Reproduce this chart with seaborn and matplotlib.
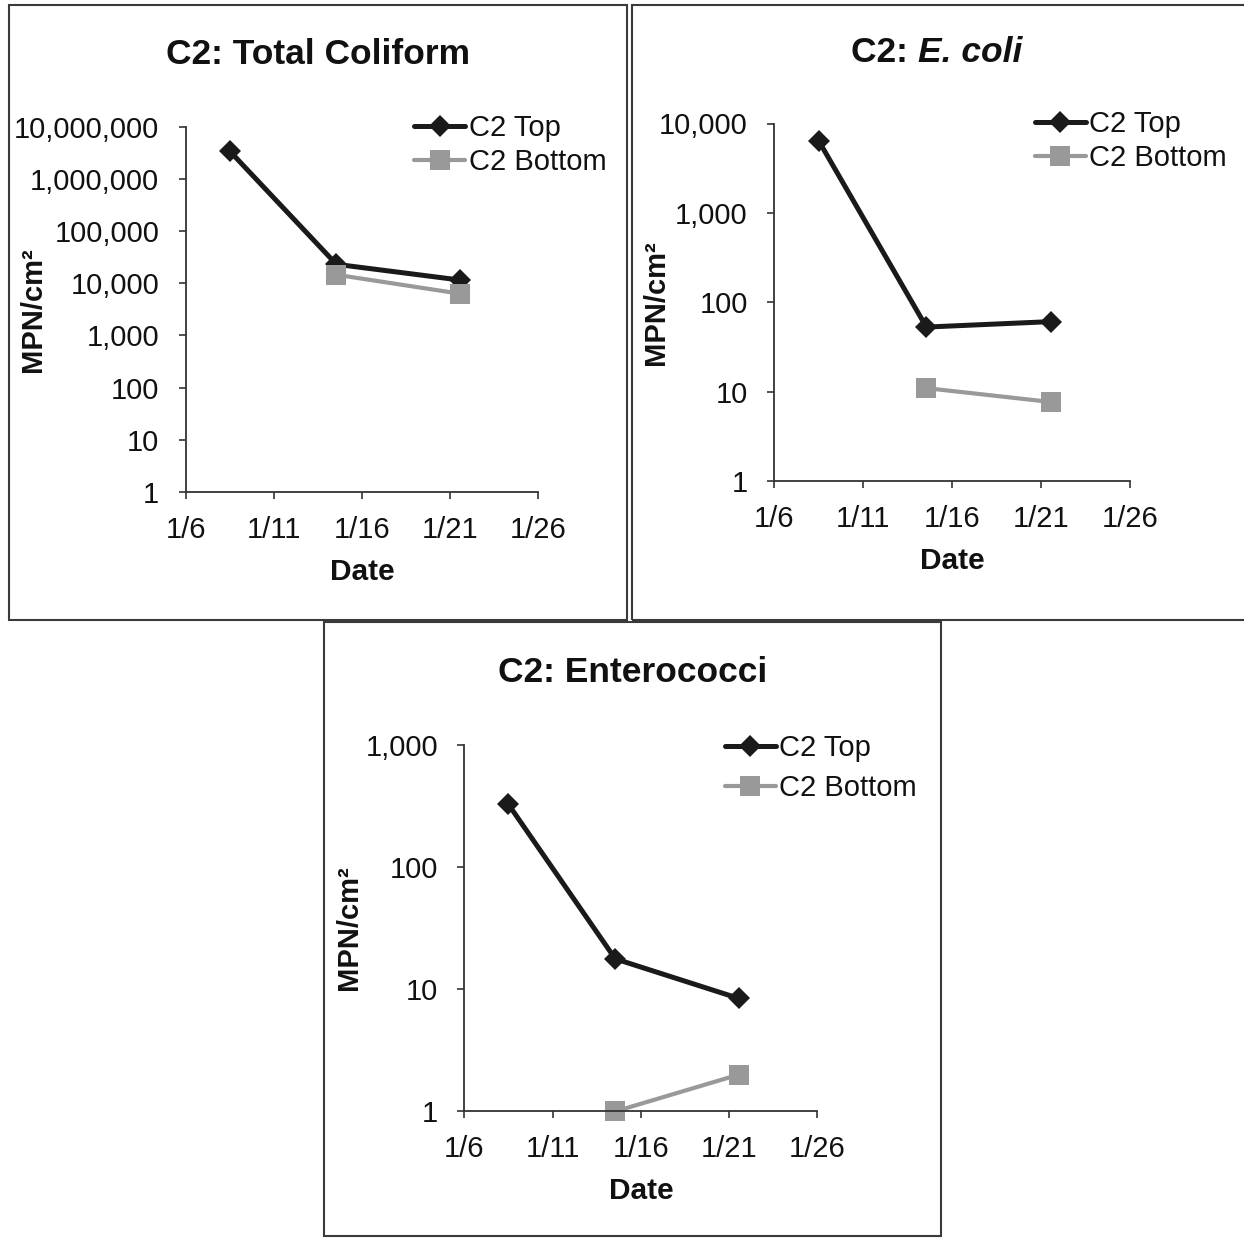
import numpy as np
import pandas as pd
import matplotlib
matplotlib.use("Agg")
import matplotlib.pyplot as plt
import matplotlib.ticker as mticker
from matplotlib.patches import Rectangle
import seaborn as sns

sns.set_theme(style="white")
plt.rcParams['font.family'] = ['Liberation Sans', 'DejaVu Sans']

# ---- data (day of January) ----
days_top = [8.5, 14.55, 21.55]
days_bottom = [14.55, 21.55]

tc_top = [3.4e6, 23000, 11500]
tc_bottom = [14500, 6300]

ec_top = [6400, 53, 61]
ec_bottom = [11, 7.7]

ent_top = [325, 17.7, 8.4]
ent_bottom = [1.0, 2.0]

xtick_days = [6, 11, 16, 21, 26]
xtick_labels = ["1/6", "1/11", "1/16", "1/21", "1/26"]

series_names = ["C2 Top", "C2 Bottom"]

W, H = 1244, 1239
fig = plt.figure(figsize=(W / 100, H / 100), dpi=100)

def fx(px):
    return px / W

def fy(py):
    return 1 - py / H

TOP_COLOR = "#1a1a1a"
BOT_COLOR = "#999999"
TXT = "#111111"

panels = [
    dict(axpx=(185.6, 126.6, 538.4, 492.0), box=(9.3, 5, 626.7, 620),
         top=tc_top, bot=tc_bottom, ylim=(1, 1e7), title_y=55, ylab_x=-0.392,
         leg=(414, 114), lsp=0.22, title=("C2: Total Coliform", None)),
    dict(axpx=(774.2, 123.5, 1130.2, 481.3), box=(632.3, 5, 1250, 620),
         top=ec_top, bot=ec_bottom, ylim=(1, 1e4), title_y=53, ylab_x=-0.292,
         leg=(1034.7, 110), lsp=0.2, title=("C2: ", "E. coli")),
    dict(axpx=(464.3, 744.7, 817.4, 1111.4), box=(324, 622.3, 941, 1236),
         top=ent_top, bot=ent_bottom, ylim=(1, 1e3), title_y=672, ylab_x=-0.288,
         leg=(724.5, 734), lsp=0.42, title=("C2: Enterococci", None)),
]

fig.canvas.draw()
renderer = fig.canvas.get_renderer()

for p in panels:
    l, t, r, b = p['axpx']
    ax = fig.add_axes([fx(l), fy(b), fx(r - l), (b - t) / H])
    df_top = pd.DataFrame({"day": days_top, "value": p['top']})
    df_bot = pd.DataFrame({"day": days_bottom, "value": p['bot']})
    sns.lineplot(data=df_top, x="day", y="value", ax=ax, color=TOP_COLOR,
                 linewidth=3.6, marker="D", markersize=11, markeredgewidth=0,
                 label=series_names[0], clip_on=False)
    sns.lineplot(data=df_bot, x="day", y="value", ax=ax, color=BOT_COLOR,
                 linewidth=3.0, marker="s", markersize=15, markeredgewidth=0,
                 label=series_names[1], clip_on=False)
    ax.set_yscale("log")
    ax.set_ylim(*p['ylim'])
    ax.set_xlim(6, 26)
    ax.set_xticks(xtick_days)
    ax.set_xticklabels(xtick_labels)
    ax.yaxis.set_major_locator(mticker.LogLocator(base=10, numticks=20))
    ax.yaxis.set_minor_locator(mticker.NullLocator())
    ax.yaxis.set_major_formatter(mticker.FuncFormatter(lambda v, pos: f"{v:,.0f}"))
    for side in ["top", "right"]:
        ax.spines[side].set_visible(False)
    for side in ["left", "bottom"]:
        ax.spines[side].set_color("#333333")
        ax.spines[side].set_linewidth(1.3)
    ax.tick_params(axis="both", which="major", direction="out", length=5,
                   width=1.2, color="#333333", labelsize=21, labelcolor=TXT)
    ax.tick_params(axis="x", pad=12, bottom=True)
    ax.tick_params(axis="y", pad=14, left=True)
    ax.set_xlabel("Date", fontsize=21.5, fontweight="bold", color=TXT)
    ax.xaxis.set_label_coords(0.5, -(80 - 14) / (b - t))
    ax.set_ylabel("MPN/cm²", fontsize=21, fontweight="bold", color=TXT)
    ax.yaxis.set_label_coords(p['ylab_x'], 0.5)
    ax.grid(False)
    ax.set_facecolor("white")
    lx, ly = p['leg']
    leg = ax.legend(loc="upper left", bbox_to_anchor=(fx(lx), fy(ly)),
                    bbox_transform=fig.transFigure, frameon=False, fontsize=21,
                    handlelength=1.75, handletextpad=0.12, borderpad=0,
                    borderaxespad=0, labelspacing=p['lsp'], numpoints=1)
    for txt in leg.get_texts():
        txt.set_color(TXT)
    # panel border
    x0, y0, x1, y1 = p['box']
    fig.patches.append(Rectangle((fx(x0), fy(y1)), fx(x1 - x0), (y1 - y0) / H,
                                 transform=fig.transFigure, fill=False,
                                 edgecolor="#3a3a3a", linewidth=1.5))
    # title
    cx = (x0 + min(x1, 1241)) / 2
    main, ital = p['title']
    if ital is None:
        fig.text(fx(cx), fy(p['title_y']), main, ha="center", va="center",
                 fontsize=25.5, fontweight="bold", color=TXT)
    else:
        t1 = fig.text(0, fy(p['title_y']), main, ha="left", va="center",
                      fontsize=25.5, fontweight="bold", color=TXT)
        t2 = fig.text(0, fy(p['title_y']), ital, ha="left", va="center",
                      fontsize=25.5, fontweight="bold", style="italic", color=TXT)
        w1 = t1.get_window_extent(renderer=renderer).width
        w2 = t2.get_window_extent(renderer=renderer).width
        start = cx - (w1 + w2) / 2
        t1.set_x(fx(start))
        t2.set_x(fx(start + w1))

fig.savefig("out.png", dpi=100, facecolor="white")
